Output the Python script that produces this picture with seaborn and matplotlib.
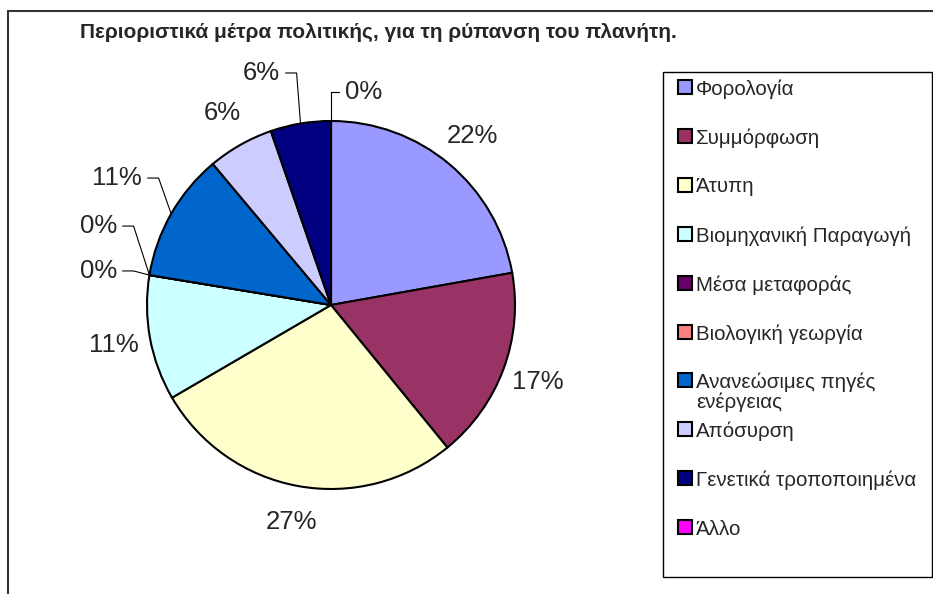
import numpy as np
import seaborn as sns
import matplotlib.pyplot as plt
from matplotlib.patches import Rectangle
from matplotlib.lines import Line2D

# data (slice order clockwise from 12 o'clock)
categories = ['Φορολογία', 'Συμμόρφωση', 'Άτυπη', 'Βιομηχανική Παραγωγή',
              'Μέσα μεταφοράς', 'Βιολογική γεωργία',
              'Ανανεώσιμες πηγές\nενέργειας', 'Απόσυρση',
              'Γενετικά τροποποιημένα', 'Άλλο']
shares = [22.2, 16.9, 27.5, 11.0, 0, 0, 11.3, 5.8, 5.3, 0]
pct_labels = ['22%', '17%', '27%', '11%', '0%', '0%', '11%', '6%', '6%', '0%']
colors = ['#9999FF', '#993366', '#FFFFCC', '#CCFFFF', '#660066',
          '#FF8080', '#0066CC', '#CCCCFF', '#000080', '#FF00FF']
title = 'Περιοριστικά μέτρα πολιτικής, για τη ρύπανση του πλανήτη.'

# labels that sit away from the pie with a leader line: (x, y, ha) in data units
leader_pos = {4: (-1.163, 0.185, 'right'),
              5: (-1.163, 0.429, 'right'),
              6: (-1.027, 0.690, 'right'),
              8: (-0.277, 1.261, 'right'),
              9: (0.076, 1.158, 'left')}

sns.set_style("white")
plt.rcParams['font.family'] = ['Liberation Sans', 'DejaVu Sans']

W, H = 933, 594
fig = plt.figure(figsize=(W / 100, H / 100), dpi=100)

def fx(x):
    return x / W

def fy(y):
    return 1 - y / H

# pie axes, centre (331, 305) px, radius 184 px
ax = fig.add_axes([fx(331 - 276), fy(305 + 276), 552 / W, 552 / H])
wedges, _ = ax.pie(shares, colors=sns.color_palette(colors), startangle=90,
                   counterclock=False,
                   wedgeprops=dict(edgecolor='black', linewidth=1.5))
ax.set_xlim(-1.5, 1.5)
ax.set_ylim(-1.5, 1.5)
ax.set_aspect('equal')
ax.axis('off')

for i, w in enumerate(wedges):
    mid = np.deg2rad((w.theta1 + w.theta2) / 2)
    ex, ey = np.cos(mid), np.sin(mid)
    if i in leader_pos:
        tx, ty, ha = leader_pos[i]
        ax.text(tx, ty, pct_labels[i], ha=ha, va='center', fontsize=18.5,
                clip_on=False)
        gap = 0.03 if ha == 'right' else -0.03
        arm = 0.06 if ha == 'right' else -0.06
        if i == 9:
            xs = [tx + gap, ex, ex]
            ys = [ty, ty, ey]
        else:
            xs = [tx + gap, tx + gap + arm, ex]
            ys = [ty, ty, ey]
        ax.plot(xs, ys, color='black', lw=0.8, clip_on=False)
    else:
        ax.text(1.2 * ex, 1.2 * ey, pct_labels[i], ha='center', va='center',
                fontsize=18.5, clip_on=False)

# title
fig.text(fx(80), fy(32), title, fontsize=15, fontweight='bold',
         ha='left', va='center')

# chart border (left and top visible)
fig.add_artist(Line2D([fx(8), fx(8)], [fy(11), 0], color='#333333', lw=1.5))
fig.add_artist(Line2D([fx(8), 1], [fy(11), fy(11)], color='#333333', lw=1.5))

# legend
fig.add_artist(Rectangle((fx(663), fy(577)), (932 - 663) / W, (577 - 72) / H,
                         facecolor='white', edgecolor='black', lw=1.0))
for i, name in enumerate(categories):
    yc = 87 + 48.9 * i
    fig.add_artist(Rectangle((fx(678), fy(yc + 7)), 14 / W, 14 / H,
                             facecolor=colors[i], edgecolor='black', lw=1.5))
    fig.text(fx(696), fy(yc - 7.5), name, fontsize=14.8, ha='left',
             va='top', linespacing=1.0)

fig.savefig('out.png', dpi=100, facecolor='white')
